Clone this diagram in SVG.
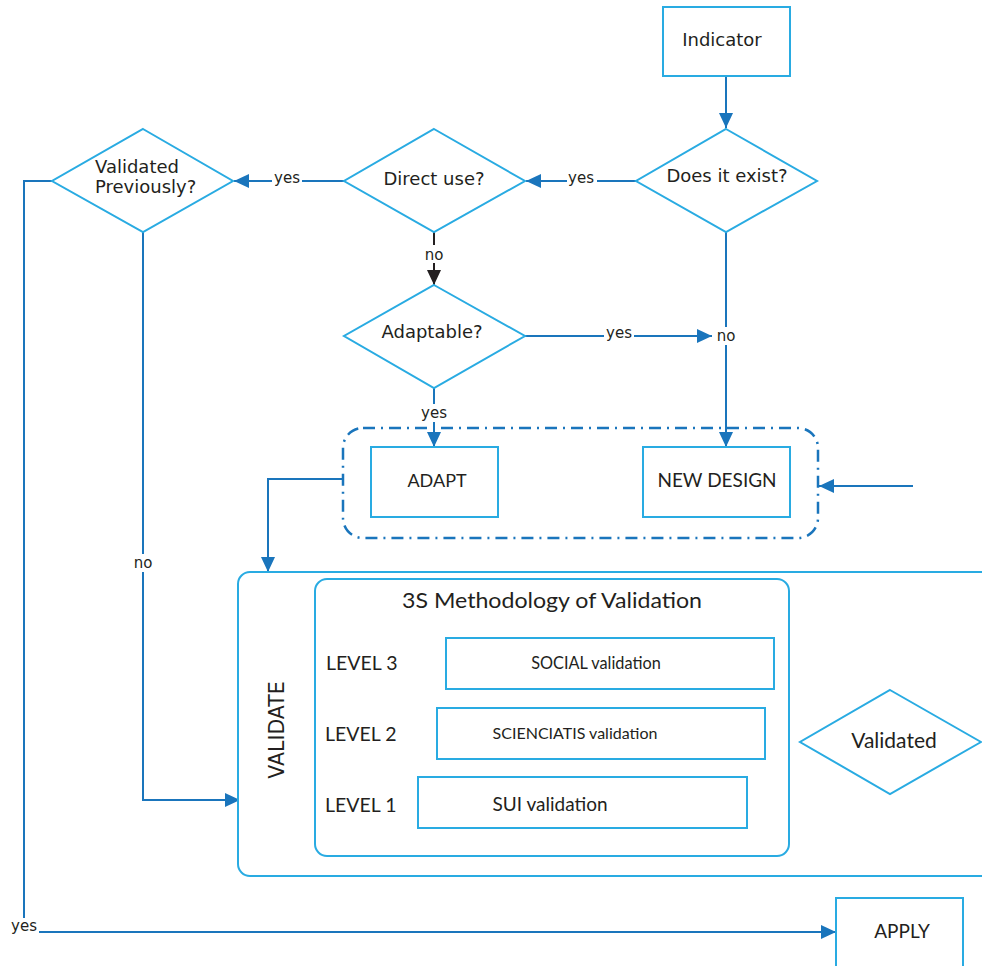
<svg xmlns="http://www.w3.org/2000/svg" width="982" height="966" viewBox="0 0 982 966">
<defs>
<marker id="ah" viewBox="0 0 15 14" refX="15" refY="7" markerWidth="15" markerHeight="14" markerUnits="userSpaceOnUse" orient="auto"><path d="M0,0 L15,7 L0,14 z" fill="#1a75bc"/></marker>
<marker id="ahk" viewBox="0 0 15 14" refX="15" refY="7" markerWidth="15" markerHeight="14" markerUnits="userSpaceOnUse" orient="auto"><path d="M0,0 L15,7 L0,14 z" fill="#231f20"/></marker>
<style>
.n{fill:#fff;stroke:#29abe2;stroke-width:2}
.c{fill:none;stroke:#1a75bc;stroke-width:2}
.t{font-family:"DejaVu Sans",Verdana,sans-serif;font-size:18px;fill:#231f20}
.l{font-family:"DejaVu Sans",Verdana,sans-serif;font-size:15px;fill:#231f20}
.k{font-family:Lato,"Open Sans",sans-serif;fill:#231f20}
.bg{fill:#fff}
</style>
</defs>
<rect width="982" height="966" fill="#fff"/>
<g id="connectors">
<path class="c" d="M726,76 V128" marker-end="url(#ah)"/>
<path class="c" d="M636,181 H526" marker-end="url(#ah)"/>
<path class="c" d="M344,181 H234" marker-end="url(#ah)"/>
<path d="M434,232 V285" fill="none" stroke="#231f20" stroke-width="2" marker-end="url(#ahk)"/>
<path class="c" d="M525,336 H712" marker-end="url(#ah)"/>
<path class="c" d="M726,232 V447" marker-end="url(#ah)"/>
<path class="c" d="M434,388 V447" marker-end="url(#ah)"/>
<path class="c" d="M913,486 H819" marker-end="url(#ah)"/>
<path class="c" d="M343,479 H268 V572" marker-end="url(#ah)"/>
<path class="c" d="M143,232 V800 H240" marker-end="url(#ah)"/>
<path class="c" d="M52,181 H24 V932 H836" marker-end="url(#ah)"/>
<rect x="567" y="169" width="30" height="18" class="bg"/>
<text class="l" x="581" y="183" text-anchor="middle">yes</text>
<rect x="272" y="169" width="30" height="18" class="bg"/>
<text class="l" x="287" y="183" text-anchor="middle">yes</text>
<rect x="421" y="245" width="26" height="18" class="bg"/>
<text class="l" x="434" y="260" text-anchor="middle">no</text>
<rect x="604" y="324" width="30" height="18" class="bg"/>
<text class="l" x="619" y="338" text-anchor="middle">yes</text>
<rect x="713" y="327" width="26" height="18" class="bg"/>
<text class="l" x="726" y="341" text-anchor="middle">no</text>
<rect x="419" y="404" width="30" height="18" class="bg"/>
<text class="l" x="434" y="418" text-anchor="middle">yes</text>
<rect x="130" y="554" width="26" height="18" class="bg"/>
<text class="l" x="143" y="568" text-anchor="middle">no</text>
<rect x="9" y="918" width="30" height="17" class="bg"/>
<text class="l" x="24" y="931" text-anchor="middle">yes</text>
</g>
<g id="indicator"><rect class="n" x="663" y="7" width="127" height="69"/><text class="t" x="722" y="46" text-anchor="middle">Indicator</text></g>
<g id="exists"><polygon class="n" points="726,129 817,181 726,232 636,181"/><text class="t" x="727" y="182" text-anchor="middle">Does it exist?</text></g>
<g id="direct"><polygon class="n" points="434,129 525,181 434,232 344,181"/><text class="t" x="434" y="185" text-anchor="middle">Direct use?</text></g>
<g id="validated-prev"><polygon class="n" points="143,129 233,181 143,232 52,181"/><text class="t" x="95" y="173">Validated</text><text class="t" x="95" y="193">Previously?</text></g>
<g id="adaptable"><polygon class="n" points="434,285 525,336 434,388 344,336"/><text class="t" x="432" y="338" text-anchor="middle">Adaptable?</text></g>
<g id="design-group"><rect x="343" y="428" width="475" height="110" rx="20" fill="none" stroke="#1a75bc" stroke-width="2.5" stroke-dasharray="12 6 2 6"/></g>
<g id="adapt"><rect class="n" x="371" y="447" width="127" height="70"/><text class="k" font-size="18" x="437" y="487" text-anchor="middle">ADAPT</text></g>
<g id="newdesign"><rect class="n" x="643" y="447" width="147" height="70"/><text class="k" font-size="19" x="717" y="487" text-anchor="middle">NEW DESIGN</text></g>
<g id="validate"><rect class="n" x="238" y="572" width="780" height="304" rx="12"/><text class="t" style="font-size:20.5px" transform="translate(284,730) rotate(-90)" text-anchor="middle">VALIDATE</text></g>
<g id="methodology"><rect class="n" x="315" y="579" width="474" height="277" rx="12"/><text class="k" font-size="21" x="552" y="608" text-anchor="middle" textLength="300" lengthAdjust="spacingAndGlyphs">3S Methodology of Validation</text>
<text class="k" font-size="19.5" x="326" y="670">LEVEL 3</text>
<text class="k" font-size="19.5" x="325" y="741">LEVEL 2</text>
<text class="k" font-size="19.5" x="325" y="812">LEVEL 1</text></g>
<g id="social"><rect class="n" x="446" y="638" width="328" height="51"/><text class="k" font-size="16.3" x="596" y="669" text-anchor="middle">SOCIAL validation</text></g>
<g id="scienciatis"><rect class="n" x="437" y="708" width="328" height="51"/><text class="k" font-size="16" x="575" y="739" text-anchor="middle">SCIENCIATIS validation</text></g>
<g id="sui"><rect class="n" x="418" y="777" width="329" height="51"/><text class="k" font-size="19" x="550" y="811" text-anchor="middle">SUI validation</text></g>
<g id="validated"><polygon class="n" points="890,690 981,742 890,794 800,742"/><text class="k" font-size="21" x="894" y="748" text-anchor="middle">Validated</text></g>
<g id="apply"><rect class="n" x="836" y="898" width="127" height="90"/><text class="k" font-size="19" x="902" y="938" text-anchor="middle">APPLY</text></g>
</svg>
